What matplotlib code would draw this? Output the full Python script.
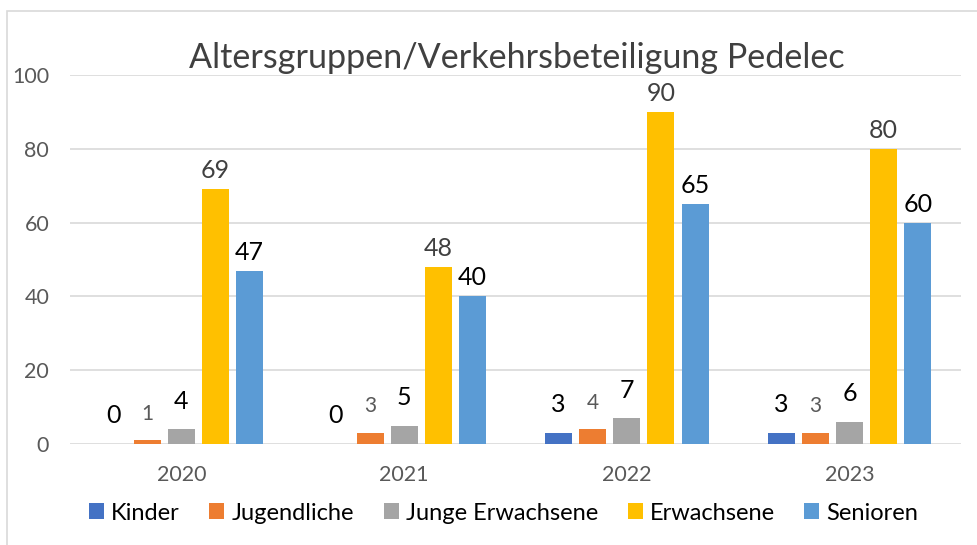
import numpy as np
import matplotlib
matplotlib.use("Agg")
import matplotlib.pyplot as plt
from matplotlib.patches import Rectangle

plt.rcParams["font.family"] = ["Lato", "DejaVu Sans"]

years = ["2020", "2021", "2022", "2023"]
groups = ["Kinder", "Jugendliche", "Junge Erwachsene", "Erwachsene", "Senioren"]
kinder = [0, 0, 3, 3]
jugendliche = [1, 3, 4, 3]
junge_erwachsene = [4, 5, 7, 6]
erwachsene = [69, 48, 90, 80]
senioren = [47, 40, 65, 60]
series = [kinder, jugendliche, junge_erwachsene, erwachsene, senioren]

colors = ["#4472C4", "#ED7D31", "#A5A5A5", "#FFC000", "#5B9BD5"]
# label style per series: (colour, size, offset in points)
label_style = [("#000000", 18, 12), ("#595959", 15, 12), ("#000000", 18, 12),
               ("#404040", 18, 5), ("#000000", 18, 5)]

fig = plt.figure(figsize=(9.78, 5.45), dpi=100)
fig.patches.append(Rectangle((7/978, -0.1), 1.1, 1 - 11/545 + 0.1, transform=fig.transFigure,
                             fill=False, edgecolor="#d9d9d9", lw=1.2))
ax = fig.add_axes([70/978, 1 - 444/545, 891/978, 369/545])

x = np.arange(len(years))
step, width = 0.153, 0.121
for i, (vals, name) in enumerate(zip(series, groups)):
    pos = x + (i - 2) * step
    bars = ax.bar(pos, vals, width, color=colors[i], label=name, zorder=3)
    col, size, off = label_style[i]
    for b, v in zip(bars, vals):
        ax.annotate(str(v), (b.get_x() + b.get_width() / 2, v), xytext=(0, off),
                    textcoords="offset points", ha="center", va="bottom",
                    fontsize=size, color=col)

ax.set_xlim(-0.5, 3.5)
ax.set_ylim(0, 100)
ax.set_yticks(range(0, 101, 20))
ax.set_xticks(x)
ax.set_xticklabels(years)
ax.grid(axis="y", color="#d9d9d9", lw=1.2, zorder=0)
for s in ax.spines.values():
    s.set_visible(False)
ax.tick_params(length=0, labelsize=15.5, colors="#595959")
ax.tick_params(axis="x", pad=15)
ax.tick_params(axis="y", pad=15)

fig.text(0.528, 1 - 58/545, "Altersgruppen/Verkehrsbeteiligung Pedelec", ha="center",
         va="center", fontsize=24.6, color="#404040")

fig.legend(loc="center", bbox_to_anchor=(0.515, 1 - 513/545), ncol=5, frameon=False,
           fontsize=17, handlelength=0.64, handleheight=0.64, handletextpad=0.3,
           columnspacing=1.25)

fig.savefig("out.png", dpi=100)
